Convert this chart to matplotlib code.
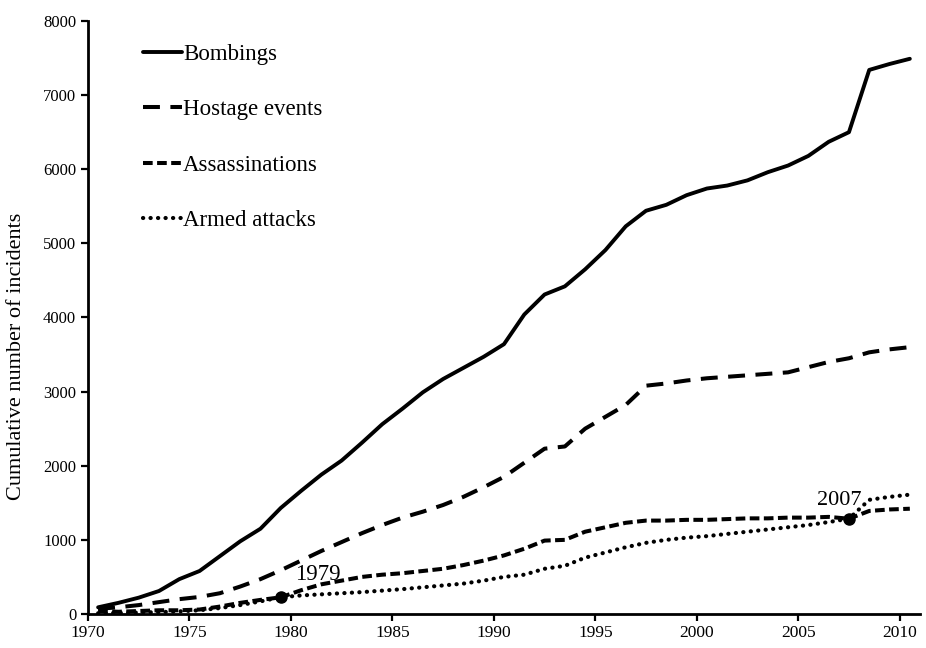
import matplotlib
matplotlib.use("Agg")
import matplotlib.pyplot as plt
from matplotlib.lines import Line2D

years = list(range(1970, 2011))

bombings = [90, 150, 220, 310, 470, 580, 780, 980, 1150, 1430,
            1660, 1880, 2070, 2310, 2560, 2770, 2990, 3170, 3320, 3470,
            3640, 4040, 4310, 4420, 4650, 4910, 5230, 5440, 5520, 5650,
            5740, 5780, 5850, 5960, 6050, 6180, 6370, 6500, 7340, 7420, 7490]

hostage_events = [70, 90, 120, 160, 200, 230, 280, 370, 470, 590,
                  720, 850, 970, 1090, 1200, 1300, 1380, 1470, 1580, 1710,
                  1850, 2040, 2230, 2260, 2500, 2660, 2820, 3080, 3110, 3150,
                  3180, 3200, 3220, 3240, 3260, 3330, 3400, 3450, 3530, 3570, 3600]

assassinations = [40, 30, 40, 50, 50, 60, 100, 150, 190, 225,
                  320, 400, 450, 500, 530, 550, 580, 610, 660, 720,
                  790, 880, 990, 1000, 1110, 1170, 1230, 1260, 1260, 1270,
                  1270, 1280, 1290, 1290, 1300, 1300, 1310, 1285, 1390, 1410, 1420]

armed_attacks = [10, 15, 20, 25, 35, 50, 80, 120, 170, 225,
                 250, 265, 280, 295, 315, 335, 360, 385, 410, 450,
                 500, 530, 610, 650, 760, 830, 900, 960, 1000, 1030,
                 1050, 1080, 1110, 1140, 1170, 1200, 1240, 1285, 1540, 1580, 1610]

labels = ["Bombings", "Hostage events", "Assassinations", "Armed attacks"]
highlight_years = [1979, 2007]

serif = ["Liberation Serif", "DejaVu Serif"]
plt.rcParams["font.family"] = serif

fig = plt.figure(figsize=(9.26, 6.48), dpi=100)
ax = fig.add_axes([0.095, 0.0525, 0.8985, 0.9151])

# category-style x positions: each year sits in the middle of its interval
xs = [y + 0.5 for y in years]

styles = [
    dict(linestyle="-", linewidth=2.8, solid_capstyle="round", solid_joinstyle="round"),
    dict(linestyle=(0, (4.2, 2.6)), linewidth=2.9, dash_capstyle="butt"),
    dict(linestyle=(0, (2.4, 1.1)), linewidth=2.9, dash_capstyle="butt"),
    dict(linestyle=(0, (0.05, 1.75)), linewidth=3.0, dash_capstyle="round"),
]
series = [bombings, hostage_events, assassinations, armed_attacks]
for vals, st in zip(series, styles):
    ax.plot(xs, vals, color="black", **st)

# crossing points of assassinations and armed attacks
for yr in highlight_years:
    i = years.index(yr)
    ax.plot(yr + 0.5, assassinations[i], marker="o", color="black",
            markersize=8, zorder=5)
ax.annotate("1979", (1979.5, assassinations[years.index(1979)]),
            xytext=(1980.2, 390), fontsize=16.5, ha="left", va="bottom")
ax.annotate("2007", (2007.5, assassinations[years.index(2007)]),
            xytext=(2008.1, 1400), fontsize=16, ha="right", va="bottom")

ax.set_xlim(1970, 2011)
ax.set_ylim(0, 8000)
ax.set_xticks(range(1970, 2011, 5))
ax.set_yticks(range(0, 8001, 1000))
ax.tick_params(axis="both", direction="out", length=5, width=1.6,
               labelsize=12, colors="black")
ax.tick_params(axis="x", labelsize=12.5, pad=3)
for side in ("top", "right"):
    ax.spines[side].set_visible(False)
for side in ("left", "bottom"):
    ax.spines[side].set_linewidth(2.0)

ax.set_ylabel("Cumulative number of incidents", fontsize=16)
ax.yaxis.set_label_coords(-0.0745, 0.435)

handles = [Line2D([], [], color="black", **st) for st in styles]
ax.legend(handles, labels, loc="upper left", bbox_to_anchor=(0.055, 0.977),
          frameon=False, fontsize=16.5, handlelength=1.7, handletextpad=0.05,
          labelspacing=1.5, borderaxespad=0)

fig.savefig("out.png", dpi=100)
